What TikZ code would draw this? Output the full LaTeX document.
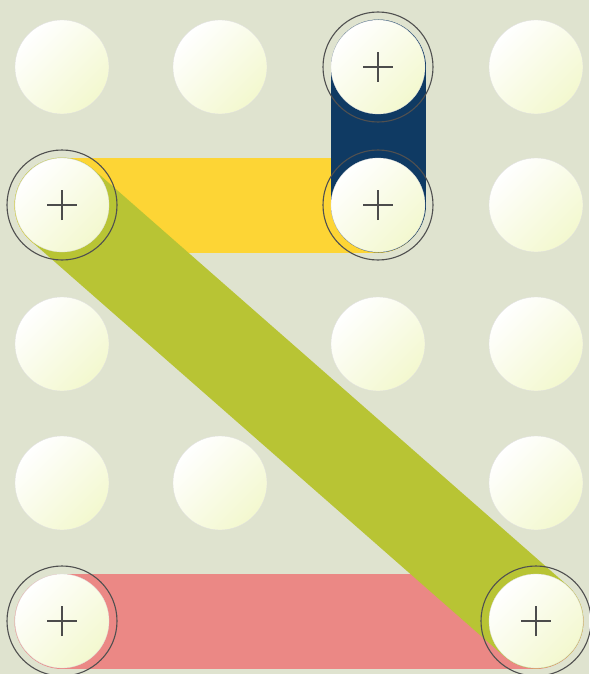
\documentclass[tikz,border=0pt]{standalone}
\definecolor{bg}{HTML}{DFE3CF}
\definecolor{bandyellow}{HTML}{FDD535}
\definecolor{bandnavy}{HTML}{0F3A63}
\definecolor{bandolive}{HTML}{B8C434}
\definecolor{bandpink}{HTML}{EB8885}
\definecolor{dotend}{HTML}{F3F8CF}
\definecolor{ringgray}{HTML}{505050}
\begin{document}
\begin{tikzpicture}[x=1pt,y=-1pt,
  dot/.style={circle,minimum size=94pt,inner sep=0pt,top color=white,bottom color=dotend,shading angle=45,draw=gray!25,line width=0.3pt},
  band/.style={line width=95pt,line cap=round},
  ring/.style={circle,minimum size=110pt,inner sep=0pt,draw=ringgray,line width=1.1pt},
  plusmark/.style={draw=gray!60!black,line width=1.2pt}]
\fill[bg] (0,0) rectangle (589,674);
\useasboundingbox (0,0) rectangle (589,674);
% grid coordinates
\foreach \c/\x in {1/62,2/220,3/378,4/536}{
  \foreach \r/\y in {1/67,2/205,3/344,4/483,5/621}{
    \coordinate (g\r\c) at (\x,\y);
  }
}
% bands
\draw[band,bandyellow] (g21) -- (g23);
\draw[band,bandnavy] (g13) -- (g23);
\draw[band,bandpink] (g51) -- (g54);
\draw[band,bandolive] (g21) -- (g54);
% dots
\foreach \rc in {11,12,13,14,21,23,24,31,33,34,41,42,44,51,54}{
  \node[dot] (d\rc) at (g\rc) {};
}
% rings and plus marks on selected dots
\foreach \rc in {13,21,23,51,54}{
  \node[ring] (r\rc) at (g\rc) {};
  \draw[plusmark] ([xshift=-15pt]d\rc.center) -- ([xshift=15pt]d\rc.center);
  \draw[plusmark] ([yshift=-15pt]d\rc.center) -- ([yshift=15pt]d\rc.center);
}
\end{tikzpicture}
\end{document}
